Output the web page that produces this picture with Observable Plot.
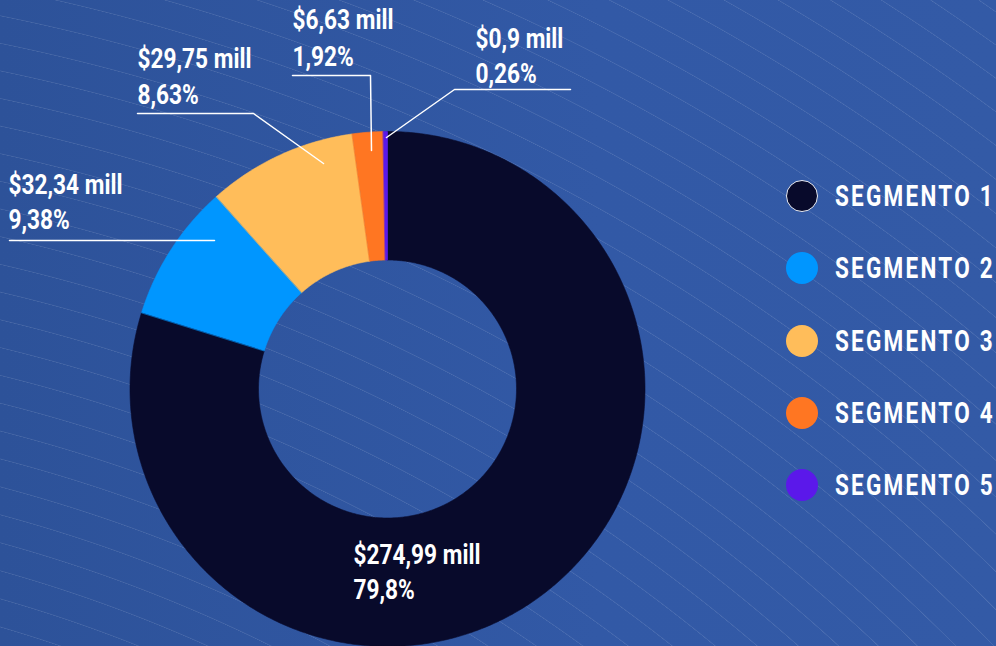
<!DOCTYPE html>
<html>
<head>
<meta charset="utf-8">
<script src="https://cdn.jsdelivr.net/npm/d3@7"></script>
<script src="https://cdn.jsdelivr.net/npm/@observablehq/plot@0.6"></script>
<style>
  html, body { margin: 0; padding: 0; }
  body {
    width: 996px; height: 646px; overflow: hidden; position: relative;
    background-color: #3158a4;
    background-image:
      repeating-radial-gradient(circle at -400px 2000px, rgba(255,255,255,0) 0px, rgba(255,255,255,0) 25.6px, rgba(255,255,255,0.13) 26px, rgba(255,255,255,0) 27px),
      linear-gradient(90deg, #2d5299 0%, #3259a6 60%, #335aa6 100%);
    font-family: Roboto, "Noto Sans", sans-serif;
  }
  #chart { position: absolute; left: 0; top: 0; }
  #legend { position: absolute; left: 0; top: 0; }
  .item { position: absolute; height: 32px; width: 260px; }
  .sw { position: absolute; left: 0; top: 0; width: 32px; height: 32px; border-radius: 50%; box-sizing: border-box; }
  .lab { position: absolute; left: 49px; top: 0; color: #fff; font-weight: bold; font-size: 30px;
         letter-spacing: 3px; white-space: nowrap; line-height: 32px;
         transform: scaleX(0.75); transform-origin: 0 50%; }
</style>
</head>
<body>
<div id="chart"></div>
<div id="legend"></div>
<script>
// ---- data ----
const segments = ["Segmento 1", "Segmento 2", "Segmento 3", "Segmento 4", "Segmento 5"];
// slice sizes as drawn in the picture (blue slice is visibly smaller than the yellow one)
const sliceValues = [274.99, 29.75, 32.34, 6.63, 0.9];
// label texts as printed in the picture
const valueLabels = ["$274,99 mill", "$32,34 mill", "$29,75 mill", "$6,63 mill", "$0,9 mill"];
const pctLabels = ["79,8%", "9,38%", "8,63%", "1,92%", "0,26%"];
const colors = ["#080a2b", "#0096ff", "#ffbd5a", "#ff7622", "#5b18ea"];

// ---- layout (pixels) ----
const CX = 387, CY = 388.5, R = 257.5, RIN = 129;
const labelLayout = [
  {x: 353, y1: 563, y2: 598, line: null},
  {x: 8,   y1: 193, y2: 228, line: [[9, 240], [214, 240]]},
  {x: 137, y1: 67,  y2: 103, line: [[137, 113], [253, 113], [323, 163]]},
  {x: 292, y1: 28,  y2: 65,  line: [[292, 75], [370, 75], [371, 150]]},
  {x: 475, y1: 47,  y2: 82,  line: [[570, 89], [454, 89], [386, 137]]}
];

// ---- slices from data via d3.pie ----
const arcs = d3.pie().sort(null).value(d => d)(sliceValues);
const slicePts = arcs.map((a, i) => {
  const n = Math.max(8, Math.ceil((a.endAngle - a.startAngle) / 0.01));
  const pts = [];
  for (let k = 0; k <= n; k++) {
    const t = a.startAngle + (a.endAngle - a.startAngle) * k / n;
    pts.push({seg: segments[i], x: CX + R * Math.sin(t), y: CY - R * Math.cos(t)});
  }
  for (let k = n; k >= 0; k--) {
    const t = a.startAngle + (a.endAngle - a.startAngle) * k / n;
    pts.push({seg: segments[i], x: CX + RIN * Math.sin(t), y: CY - RIN * Math.cos(t)});
  }
  return pts;
});

const labels = segments.map((s, i) => ({
  seg: s, value: valueLabels[i], pct: pctLabels[i], ...labelLayout[i]
}));
const leaders = labels.flatMap(d => d.line ? d.line.map(([x, y]) => ({seg: d.seg, x, y})) : []);

const font = `Roboto, "Noto Sans", sans-serif`;

const plot = Plot.plot({
  width: 996,
  height: 646,
  margin: 0,
  x: {domain: [0, 996], range: [0, 996], axis: null},
  y: {domain: [0, 646], range: [0, 646], axis: null},
  style: {background: "transparent", fontFamily: font, overflow: "visible"},
  marks: [
    ...slicePts.map((pts, i) => Plot.line(pts, {
      x: "x", y: "y", curve: "linear-closed",
      fill: colors[i], stroke: colors[i], strokeWidth: 0.6
    })),
    Plot.line(leaders, {x: "x", y: "y", z: "seg", stroke: "#fff", strokeWidth: 1.5, curve: "linear"}),
    Plot.text(labels, {x: "x", y: "y1", text: "value", textAnchor: "start", lineAnchor: "bottom",
      fill: "#fff", fontSize: 28, fontWeight: "bold"}),
    Plot.text(labels, {x: "x", y: "y2", text: "pct", textAnchor: "start", lineAnchor: "bottom",
      fill: "#fff", fontSize: 28, fontWeight: "bold"})
  ]
});
// condense label glyphs (narrow display face look)
plot.querySelectorAll("g[aria-label='text'] text").forEach(t => {
  const tr = t.getAttribute("transform");
  if (tr) {
    t.setAttribute("transform", tr + " scale(0.81,1)");
  } else {
    const x = +t.getAttribute("x") || 0, y = +t.getAttribute("y") || 0;
    t.setAttribute("transform", `translate(${x},${y}) scale(0.81,1) translate(${-x},${-y})`);
  }
});
document.getElementById("chart").appendChild(plot);

// ---- legend ----
const legend = document.getElementById("legend");
segments.forEach((s, i) => {
  const it = document.createElement("div");
  it.className = "item";
  it.style.left = "786px";
  it.style.top = (196 + i * 72.3 - 16) + "px";
  const sw = document.createElement("div");
  sw.className = "sw";
  sw.style.background = colors[i];
  if (i === 0) sw.style.border = "1.5px solid #e8ecf5";
  const lab = document.createElement("div");
  lab.className = "lab";
  lab.textContent = s.toUpperCase();
  it.appendChild(sw); it.appendChild(lab);
  legend.appendChild(it);
});
</script>
</body>
</html>
